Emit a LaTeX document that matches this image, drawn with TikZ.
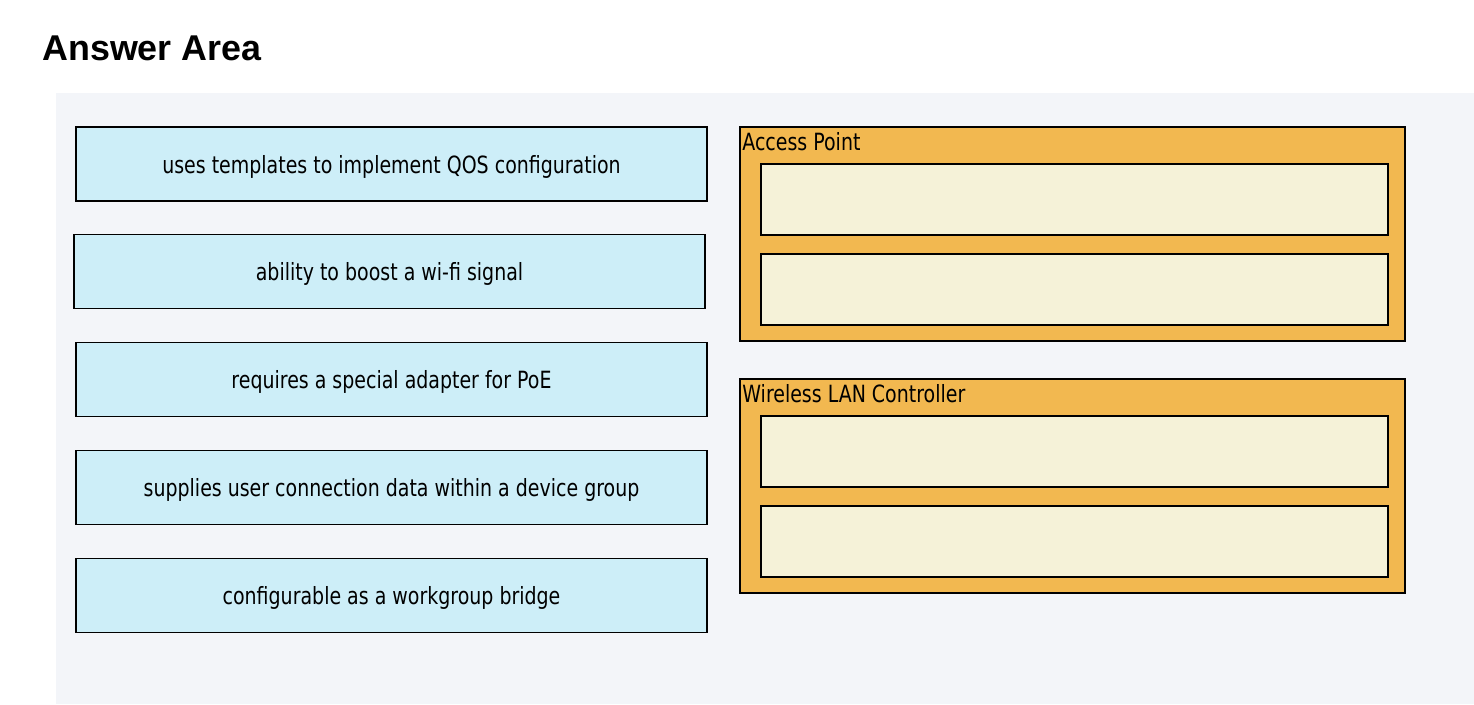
\documentclass[tikz,border=0pt]{standalone}
\usepackage{fontspec}
\setmainfont{Liberation Sans}
\newfontfamily\boxfont[FakeStretch=0.80]{DejaVu Sans}
\definecolor{panelgray}{HTML}{F3F5F9}
\definecolor{itemcyan}{HTML}{CDEEF8}
\definecolor{grouporange}{HTML}{F2B850}
\definecolor{slotcream}{HTML}{F5F2D8}
\tikzset{
    itembox/.style = {draw, line width = 1.1pt, fill = itemcyan, minimum width = 12.62cm, minimum height = 1.48cm, text height = 10.5pt, text depth = 0pt, font = \boxfont\fontsize{13.5}{16}\selectfont},
    groupbox/.style = {draw, line width = 1.1pt, fill = grouporange, minimum width = 13.3cm, minimum height = 4.28cm},
    slotbox/.style = {draw, line width = 1.1pt, fill = slotcream, minimum width = 12.54cm, minimum height = 1.42cm},
    grouplabel/.style = {anchor = base west, inner sep = 0pt, font = \boxfont\fontsize{13.5}{16}\selectfont}
}
\begin{document}
\begin{tikzpicture}[x = 0.02cm, y = -0.02cm]
        \useasboundingbox[fill = white] (0,0) rectangle (1474,704);
        \fill[panelgray] (56,93) rectangle (1474,704);
        \node[anchor = base west, inner sep = 0pt, font = \bfseries\fontsize{20.4}{24}\selectfont] (title) at (42,60) {Answer Area};
        % answer choices
        \node[itembox] (qos) at (391.5,164) {uses templates to implement QOS configuration};
        \node[itembox] (boost) at (389.5,271.5) {ability to boost a wi-fi signal};
        \node[itembox] (poe) at (391.5,379.5) {requires a special adapter for PoE};
        \node[itembox] (userdata) at (391.5,487.5) {supplies user connection data within a device group};
        \node[itembox] (bridge) at (391.5,595.5) {configurable as a workgroup bridge};
        % targets
        \node[groupbox] (ap) at (1072.5,234) {};
        \node[grouplabel] (aplabel) at (742,150) {Access Point};
        \node[slotbox] (apslota) at (1074.5,199.5) {};
        \node[slotbox] (apslotb) at (1074.5,289.5) {};
        \node[groupbox] (wlc) at (1072.5,486) {};
        \node[grouplabel] (wlclabel) at (742,402) {Wireless LAN Controller};
        \node[slotbox] (wlcslota) at (1074.5,451.5) {};
        \node[slotbox] (wlcslotb) at (1074.5,541.5) {};
    \end{tikzpicture}
\end{document}
